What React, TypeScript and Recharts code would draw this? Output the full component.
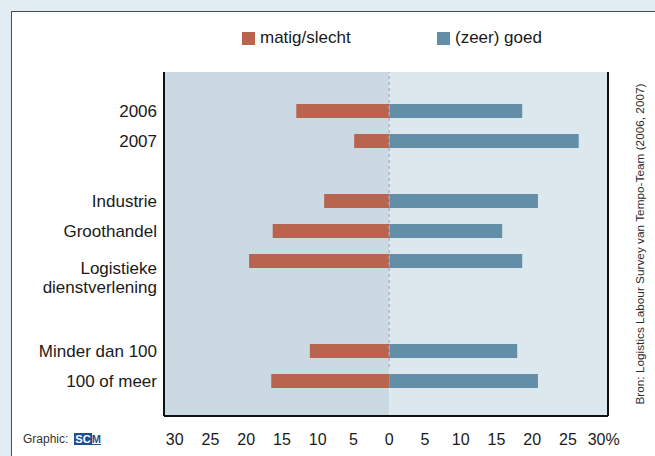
import React from 'react';
import { BarChart, Bar, XAxis, YAxis, ReferenceArea, ReferenceLine, Legend } from 'recharts';

const FONT = "'Liberation Sans', Arial, sans-serif";

// rows, empty strings are the spacer rows between the groups
const categories = ['2006', '2007', '', 'Industrie', 'Groothandel', 'Logistieke\ndienstverlening', '', '', 'Minder dan 100', '100 of meer'];
const matigSlecht = [13.0, 4.9, null, 9.1, 16.3, 19.6, null, null, 11.1, 16.5];
const zeerGoed = [18.6, 26.5, null, 20.8, 15.8, 18.6, null, null, 17.9, 20.8];
const seriesOrder = ['slecht', 'goed'];
const xTicks = [-30, -25, -20, -15, -10, -5, 0, 5, 10, 15, 20, 25, 30];
const xDomain: [number, number] = [-31.5, 30.6];

const data = categories.map((name, i) => ({
  name,
  slecht: matigSlecht[i] == null ? null : -(matigSlecht[i] as number),
  goed: zeerGoed[i],
}));

const CategoryTick = (props: any) => {
  const { x, y, payload } = props;
  const lines = String(payload.value).split('\n');
  const shift = lines.length > 1 ? 7 : 0;
  return (
    <text x={x} y={y + shift} textAnchor="end" fill="#1a1a1a" fontSize={17} fontFamily={FONT}>
      {lines.map((line, i) => (
        <tspan key={i} x={x} dy={i === 0 ? '0.36em' : '1.12em'}>
          {line}
        </tspan>
      ))}
    </text>
  );
};

const renderLegend = (props: any) => {
  const items = [...(props.payload || [])].sort(
    (a: any, b: any) => seriesOrder.indexOf(a.dataKey) - seriesOrder.indexOf(b.dataKey)
  );
  return (
    <div style={{ display: 'flex' }}>
      {items.map((entry: any, i: number) => (
        <div key={i} style={{ display: 'flex', alignItems: 'center', width: i === 0 ? 195 : 'auto' }}>
          <span style={{ display: 'inline-block', width: 13, height: 13, background: entry.color, marginRight: 5 }} />
          <span style={{ fontSize: 17, fontFamily: FONT, color: '#1a1a1a', lineHeight: '14px' }}>{entry.value}</span>
        </div>
      ))}
    </div>
  );
};

// zero line runs up through the legend
const ZeroLine = (p: any) => (
  <line x1={p.x1} x2={p.x2} y1={p.y1 - 49} y2={p.y2} stroke="#aab4bd" strokeWidth={1.3} strokeDasharray="3 3" />
);

export default function App() {
  return (
    <div style={{ position: 'absolute', left: 0, top: 0, width: 655, height: 456, background: '#e2edf3', overflow: 'hidden' }}>
      <div style={{ position: 'absolute', left: 11, top: 11, width: 700, height: 500, background: '#fff', border: '1.5px solid #4d4d4d' }} />

      <div style={{ position: 'absolute', left: 0, top: 0 }}>
        <BarChart
          width={655}
          height={456}
          data={data}
          layout="vertical"
          stackOffset="sign"
          margin={{ top: 72, right: 47, bottom: 0, left: 0 }}
        >
          {/* full-height helper axis for the background panels */}
          <YAxis yAxisId="bg" type="number" domain={[0, 1]} hide />
          <ReferenceArea yAxisId="bg" x1={xDomain[0]} x2={0} fill="#cbd9e3" fillOpacity={1} stroke="none" />
          <ReferenceArea yAxisId="bg" x1={0} x2={xDomain[1]} fill="#dde7ee" fillOpacity={1} stroke="none" />
          <XAxis
            type="number"
            domain={xDomain}
            allowDataOverflow
            ticks={xTicks}
            interval={0}
            height={40}
            tickLine={false}
            tickSize={0}
            tickMargin={18}
            axisLine={{ stroke: '#111', strokeWidth: 2 }}
            tick={{ fill: '#1a1a1a', fontSize: 16, fontFamily: FONT }}
            tickFormatter={(v: number) => (v === 30 ? '30%' : String(Math.abs(v)))}
          />
          <YAxis
            type="category"
            dataKey="name"
            width={164}
            tickLine={false}
            tickSize={0}
            tickMargin={7}
            interval={0}
            padding={{ top: 24, bottom: 20 }}
            axisLine={{ stroke: '#111', strokeWidth: 2 }}
            tick={<CategoryTick />}
          />
          <Legend
            verticalAlign="middle"
            align="center"
            content={renderLegend}
            wrapperStyle={{ top: 31, left: 242, width: 320 }}
          />
          <Bar dataKey="slecht" name="matig/slecht" stackId="a" fill="#b8644f" barSize={14} isAnimationActive={false} />
          <Bar dataKey="goed" name="(zeer) goed" stackId="a" fill="#638ea8" barSize={14} isAnimationActive={false} />
          <ReferenceLine yAxisId="bg" x={0} shape={ZeroLine} ifOverflow="visible" />
          <ReferenceLine yAxisId="bg" x={xDomain[1]} stroke="#111" strokeWidth={2} ifOverflow="visible" />
        </BarChart>
      </div>

      <div
        style={{
          position: 'absolute',
          left: 640,
          top: 244,
          transform: 'translate(-50%, -50%) rotate(-90deg)',
          whiteSpace: 'nowrap',
          fontFamily: FONT,
          fontSize: 11.8,
          color: '#2a2a2a',
        }}
      >
        Bron: Logistics Labour Survey van Tempo-Team (2006, 2007)
      </div>

      <div style={{ position: 'absolute', left: 23, top: 432, display: 'flex', alignItems: 'center', fontFamily: FONT }}>
        <span style={{ fontSize: 12, color: '#333', marginRight: 6 }}>Graphic:</span>
        <span style={{ background: '#1d4e8f', color: '#fff', fontWeight: 'bold', fontSize: 11, lineHeight: '12px', padding: '0 1px' }}>SC</span>
        <span style={{ color: '#1d4e8f', fontWeight: 'bold', fontSize: 11, lineHeight: '12px', textDecoration: 'underline' }}>M</span>
      </div>
    </div>
  );
}
